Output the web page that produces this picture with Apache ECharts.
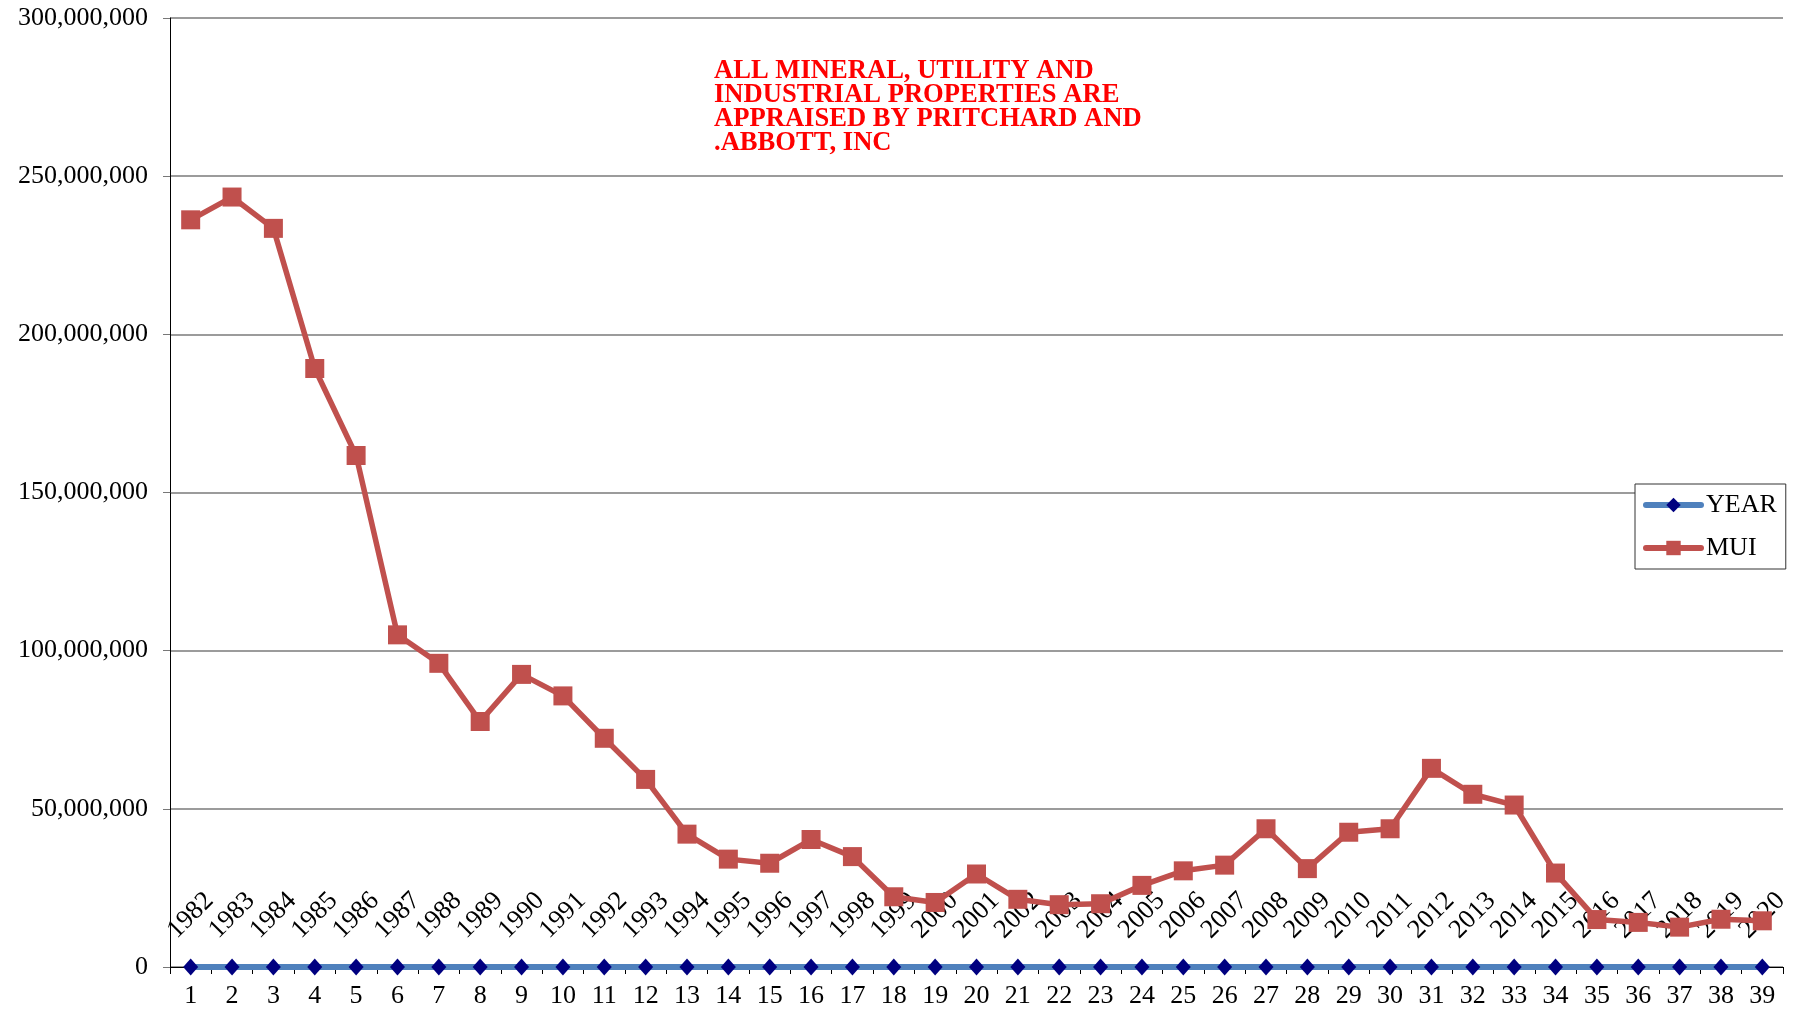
<!DOCTYPE html>
<html>
<head>
<meta charset="utf-8">
<script src="https://cdn.jsdelivr.net/npm/echarts@6/dist/echarts.min.js"></script>
<style>
html,body{margin:0;padding:0;background:#fff;}
#chart{width:1797px;height:1016px;}
</style>
</head>
<body>
<div id="chart"></div>
<script>
var categories = ['1','2','3','4','5','6','7','8','9','10','11','12','13','14','15','16','17','18','19','20','21','22','23','24','25','26','27','28','29','30','31','32','33','34','35','36','37','38','39'];
var yearValues = [1982,1983,1984,1985,1986,1987,1988,1989,1990,1991,1992,1993,1994,1995,1996,1997,1998,1999,2000,2001,2002,2003,2004,2005,2006,2007,2008,2009,2010,2011,2012,2013,2014,2015,2016,2017,2018,2019,2020];
var muiValues = [236200000,243400000,233500000,189200000,161700000,105000000,96000000,77600000,92500000,85700000,72300000,59300000,42000000,34100000,32800000,40300000,34900000,22200000,20400000,29400000,21400000,19700000,20000000,25800000,30400000,32200000,43700000,31100000,42600000,43700000,62800000,54600000,51200000,29700000,15000000,14100000,12600000,15100000,14600000];
var seriesNames = ['YEAR','MUI'];
var noteLines = ['ALL MINERAL, UTILITY AND','INDUSTRIAL PROPERTIES ARE','APPRAISED BY PRITCHARD AND','.ABBOTT, INC'];

var FONT = '"Liberation Serif", "Times New Roman", serif';
var chart = echarts.init(document.getElementById('chart'), null, {renderer:'canvas'});
function fmt(v){ return String(v).replace(/\B(?=(\d{3})+(?!\d))/g, ','); }

chart.setOption({
  animation:false,
  backgroundColor:'#ffffff',
  grid:{left:170, right:14, top:18, bottom:49, containLabel:false},
  legend:{
    orient:'vertical', left:1635, top:484,
    data:[
      {name:seriesNames[0], lineStyle:{width:6, color:'#4F81BD', cap:'round'}, itemStyle:{color:'#000080'}},
      {name:seriesNames[1], lineStyle:{width:6, color:'#C0504D', cap:'round'}, itemStyle:{color:'#C0504D'}}
    ],
    backgroundColor:'#ffffff',
    borderColor:'#333', borderWidth:1,
    padding:[8,9,8,8],
    itemWidth:55, itemHeight:18, itemGap:17,
    textStyle:{fontFamily:FONT, fontSize:26, color:'#000'}
  },
  graphic:[{
    type:'text', left:714, top:58, z:100,
    style:{text:noteLines.join('\n'), fill:'#ff0000', font:'bold 26.6px "Liberation Serif", serif', lineHeight:24}
  }],
  xAxis:{
    type:'category', data:categories, boundaryGap:true,
    axisLine:{show:true, onZero:true, lineStyle:{color:'#000', width:1}},
    axisTick:{show:true, length:7, inside:false, lineStyle:{color:'#000'}},
    axisLabel:{fontFamily:FONT, fontSize:26, color:'#000', margin:16, interval:0},
    splitLine:{show:false}
  },
  yAxis:{
    type:'value', min:0, max:300000000, interval:50000000,
    axisLine:{show:true, lineStyle:{color:'#000', width:1}},
    axisTick:{show:true, length:7, lineStyle:{color:'#777'}},
    axisLabel:{fontFamily:FONT, fontSize:26, color:'#000', margin:22, formatter:fmt},
    splitLine:{show:true, lineStyle:{color:'#7a7a7a', width:1.5}}
  },
  series:[
    {
      name:seriesNames[0], type:'line', data:yearValues, clip:false,
      symbol:'diamond', symbolSize:[15,17],
      lineStyle:{color:'#4F81BD', width:6},
      itemStyle:{color:'#000080', borderWidth:0},
      label:{show:true, position:'top', distance:43, rotate:45, align:'center', verticalAlign:'middle',
        fontFamily:FONT, fontSize:26.5, color:'#000'},
      z:2
    },
    {
      name:seriesNames[1], type:'line', data:muiValues, clip:false,
      symbol:'rect', symbolSize:19,
      lineStyle:{color:'#C0504D', width:5.5},
      itemStyle:{color:'#C0504D', borderWidth:0},
      z:3
    }
  ]
});
</script>
</body>
</html>
